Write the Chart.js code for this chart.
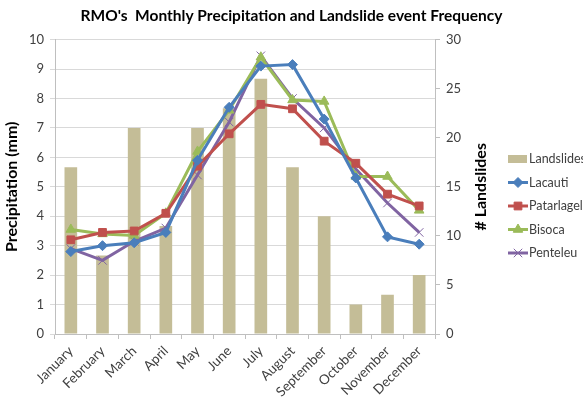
<!DOCTYPE html>
<html>
<head>
<meta charset="utf-8">
<script src="https://cdn.jsdelivr.net/npm/chart.js@4"></script>
<style>
  body { margin: 0; background: #fff; }
  #wrap { width: 583px; height: 399px; }
</style>
</head>
<body>
<div id="wrap"><canvas id="myChart" width="583" height="399"></canvas></div>
<script>
const months = ['January', 'February', 'March', 'April', 'May', 'June', 'July', 'August', 'September', 'October', 'November', 'December']
const landslides = [17, 8, 21, 11, 21, 23, 26, 17, 12, 3, 4, 6]
const lacauti = [2.8, 3.0, 3.1, 3.45, 5.9, 7.7, 9.1, 9.15, 7.3, 5.3, 3.3, 3.05]
const patarlagele = [3.2, 3.45, 3.5, 4.1, 5.7, 6.8, 7.8, 7.65, 6.55, 5.8, 4.75, 4.35]
const bisoca = [3.55, 3.4, 3.35, 4.1, 6.2, 7.6, 9.4, 7.95, 7.9, 5.35, 5.35, 4.2]
const penteleu = [2.9, 2.5, 3.15, 3.6, 5.4, 7.2, 9.45, 8.0, 7.0, 5.6, 4.45, 3.45]

const FONT = 'Lato, "Open Sans", sans-serif'
const TXT = '#404040'

const lineSet = (label, data, color, style, radius, bw) => ({
    type: 'line',
    label: label,
    data: data,
    yAxisID: 'y',
    order: 0,
    borderColor: color,
    backgroundColor: color,
    borderWidth: 3,
    pointStyle: style,
    pointRadius: radius,
    pointBorderWidth: bw,
    pointBackgroundColor: color,
    pointBorderColor: color,
    tension: 0
})

// legend + right axis title drawn by hand (Excel style: title reads bottom-up, legend runs off the edge)
const sideLegend = {
    id: 'sideLegend',
    afterDraw(chart) {
        const ctx = chart.ctx
        const area = chart.chartArea
        ctx.save()
        ctx.fillStyle = '#000'
        ctx.font = 'bold 16px ' + FONT
        ctx.textAlign = 'center'
        ctx.textBaseline = 'middle'
        ctx.translate(481, (area.top + area.bottom) / 2)
        ctx.rotate(-Math.PI / 2)
        ctx.fillText('# Landslides', 0, 0)
        ctx.restore()

        const x0 = 508, y0 = 159, step = 23.5
        ctx.save()
        ctx.font = '12.5px ' + FONT
        ctx.textBaseline = 'middle'
        chart.data.datasets.forEach((ds, i) => {
            const y = y0 + i * step
            if (ds.type === 'bar') {
                ctx.fillStyle = ds.backgroundColor
                ctx.fillRect(x0, y - 4, 19, 8)
            } else {
                ctx.strokeStyle = ds.borderColor
                ctx.lineWidth = 3
                ctx.beginPath()
                ctx.moveTo(x0, y)
                ctx.lineTo(x0 + 20, y)
                ctx.stroke()
                ctx.fillStyle = ds.borderColor
                ctx.lineWidth = ds.pointBorderWidth
                Chart.helpers.drawPoint(ctx, {
                    pointStyle: ds.pointStyle,
                    radius: ds.pointRadius,
                    borderWidth: ds.pointBorderWidth,
                    rotation: 0
                }, x0 + 10, y)
            }
            ctx.fillStyle = TXT
            ctx.fillText(ds.label, x0 + 21, y)
        })
        ctx.restore()
    }
}

const ctx = document.getElementById('myChart').getContext('2d')
const myChart = new Chart(ctx, {
    type: 'bar',
    data: {
        labels: months,
        datasets: [
            {
                type: 'bar',
                label: 'Landslides',
                data: landslides,
                yAxisID: 'y1',
                order: 1,
                backgroundColor: 'rgb(196, 189, 151)',
                barPercentage: 0.4,
                categoryPercentage: 1
            },
            lineSet('Lacauti', lacauti, '#4a7ebb', 'rectRot', 5, 1),
            lineSet('Patarlagele', patarlagele, '#c0504d', 'rect', 5.5, 1),
            lineSet('Bisoca', bisoca, '#9bbb59', 'triangle', 5.5, 1),
            lineSet('Penteleu', penteleu, '#8064a2', 'crossRot', 6, 1)
        ]
    },
    options: {
        responsive: false,
        animation: false,
        layout: { padding: 0 },
        plugins: {
            legend: { display: false },
            tooltip: { enabled: false },
            title: {
                display: true,
                text: "RMO's  Monthly Precipitation and Landslide event Frequency",
                color: '#000',
                font: { family: FONT, size: 15.5, weight: 'bold' },
                padding: { top: 7, bottom: 14 }
            }
        },
        scales: {
            x: {
                offset: true,
                grid: { display: true, offset: true, drawOnChartArea: false, tickLength: 5, color: '#bfbfbf' },
                border: { color: '#bfbfbf' },
                ticks: { color: TXT, font: { family: FONT, size: 13.5 }, minRotation: 45, maxRotation: 45, padding: 4 },
                afterFit: (scale) => { scale.height = 65 }
            },
            y: {
                position: 'left',
                min: 0,
                max: 10,
                ticks: { stepSize: 1, color: TXT, font: { family: FONT, size: 13 }, padding: 6 },
                grid: { color: '#d9d9d9', tickLength: 5 },
                border: { color: '#bfbfbf' },
                title: { display: true, text: 'Precipitation (mm)', color: '#000', font: { family: FONT, size: 16, weight: 'bold' }, padding: 2 },
                afterFit: (scale) => { scale.width = 55 }
            },
            y1: {
                position: 'right',
                min: 0,
                max: 30,
                ticks: { stepSize: 5, color: TXT, font: { family: FONT, size: 13 }, padding: 6 },
                grid: { drawOnChartArea: false, tickLength: 5, color: '#bfbfbf' },
                border: { color: '#bfbfbf' },
                afterFit: (scale) => { scale.width = 148 }
            }
        }
    },
    plugins: [sideLegend]
})
</script>
</body>
</html>
